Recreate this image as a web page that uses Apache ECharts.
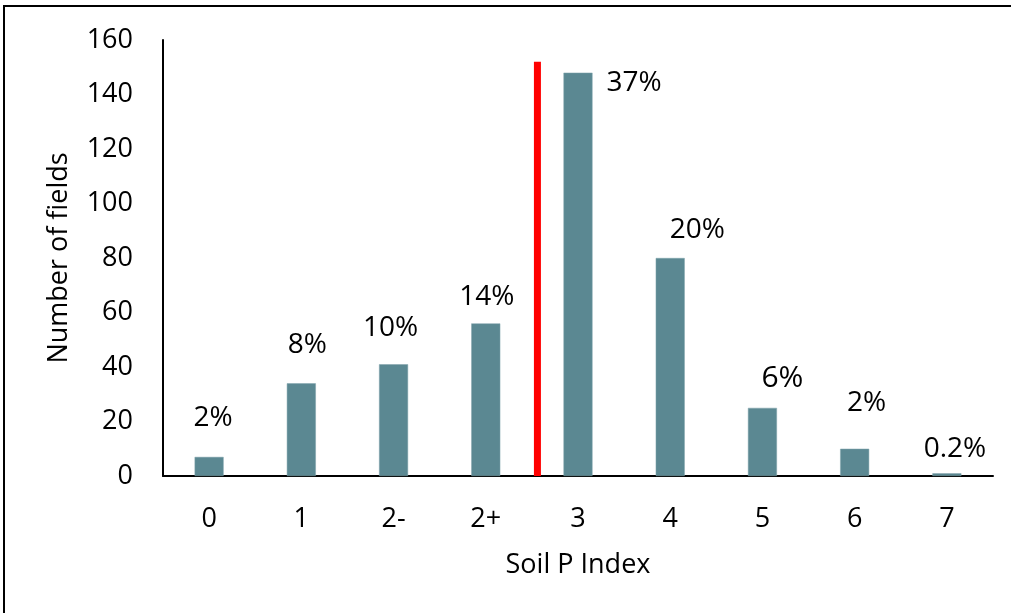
<!DOCTYPE html>
<html>
<head>
<meta charset="utf-8">
<script src="https://cdn.jsdelivr.net/npm/echarts@6/dist/echarts.min.js"></script>
<style>
  html, body { margin: 0; padding: 0; background: #fff; }
  #chart { width: 1011px; height: 613px; }
</style>
</head>
<body>
<div id="chart"></div>
<script>
const categories = ['0', '1', '2-', '2+', '3', '4', '5', '6', '7'];
const fieldCounts = [7, 34, 41, 56, 148, 80, 25, 10, 1];
const percentLabels = ['2%', '8%', '10%', '14%', '37%', '20%', '6%', '2%', '0.2%'];
const yTicks = [0, 20, 40, 60, 80, 100, 120, 140, 160];
// red threshold line between 2+ and 3
const thresholdX = 3.56;
const thresholdTop = 152;

// hand-placed label nudges, like in the original
const labelOffsets = [[4, -39], [6, -38], [-3, -36], [1, -26], [56, 10], [27, -28], [20, -29], [12, -46], [8, -24]];
const labelSizes = [28, 28, 28, 28, 28, 28, 30, 28, 28];

const font = '"Open Sans", "Liberation Sans", sans-serif';
const chart = echarts.init(document.getElementById('chart'));

chart.setOption({
  animation: false,
  textStyle: { fontFamily: font, color: '#000' },
  graphic: [{
    type: 'rect',
    shape: { x: 4, y: 6, width: 1100, height: 700 },
    style: { fill: 'none', stroke: '#000', lineWidth: 2 }
  }],
  grid: { left: 163, top: 40, right: 18, bottom: 137 },
  xAxis: [{
    type: 'category',
    data: categories,
    name: 'Soil P Index',
    nameLocation: 'middle',
    nameGap: 76,
    nameTextStyle: { fontSize: 27, color: '#000', fontFamily: font },
    axisLine: { onZero: false, lineStyle: { color: '#000', width: 2 } },
    axisTick: { show: false },
    axisLabel: { fontSize: 27, color: '#000', margin: 30, fontFamily: font }
  }, {
    type: 'value',
    min: -0.5,
    max: 8.5,
    show: false,
    axisLine: { onZero: false }
  }],
  yAxis: {
    type: 'value',
    min: yTicks[0],
    max: yTicks[yTicks.length - 1],
    interval: 20,
    name: 'Number of fields',
    nameLocation: 'middle',
    nameGap: 90,
    nameTextStyle: { fontSize: 27, color: '#000', fontFamily: font },
    axisLine: { show: true, onZero: false, lineStyle: { color: '#000', width: 2 } },
    axisTick: { show: false },
    splitLine: { show: false },
    axisLabel: { fontSize: 27, color: '#000', margin: 30, fontFamily: font }
  },
  series: [{
    type: 'bar',
    barWidth: 29,
    itemStyle: { color: '#5b8892', borderColor: '#7fa3ab', borderWidth: 0.5 },
    data: fieldCounts.map((v, i) => ({
      value: v,
      label: {
        show: true,
        formatter: percentLabels[i],
        position: ['50%', 0],
        align: 'center',
        verticalAlign: 'middle',
        offset: labelOffsets[i],
        fontSize: labelSizes[i],
        color: '#000',
        fontFamily: font
      }
    }))
  }, {
    type: 'line',
    xAxisIndex: 1,
    symbol: 'none',
    lineStyle: { color: '#ff0000', width: 7 },
    data: [[thresholdX, 0], [thresholdX, thresholdTop]],
    z: 3
  }]
});
</script>
</body>
</html>
